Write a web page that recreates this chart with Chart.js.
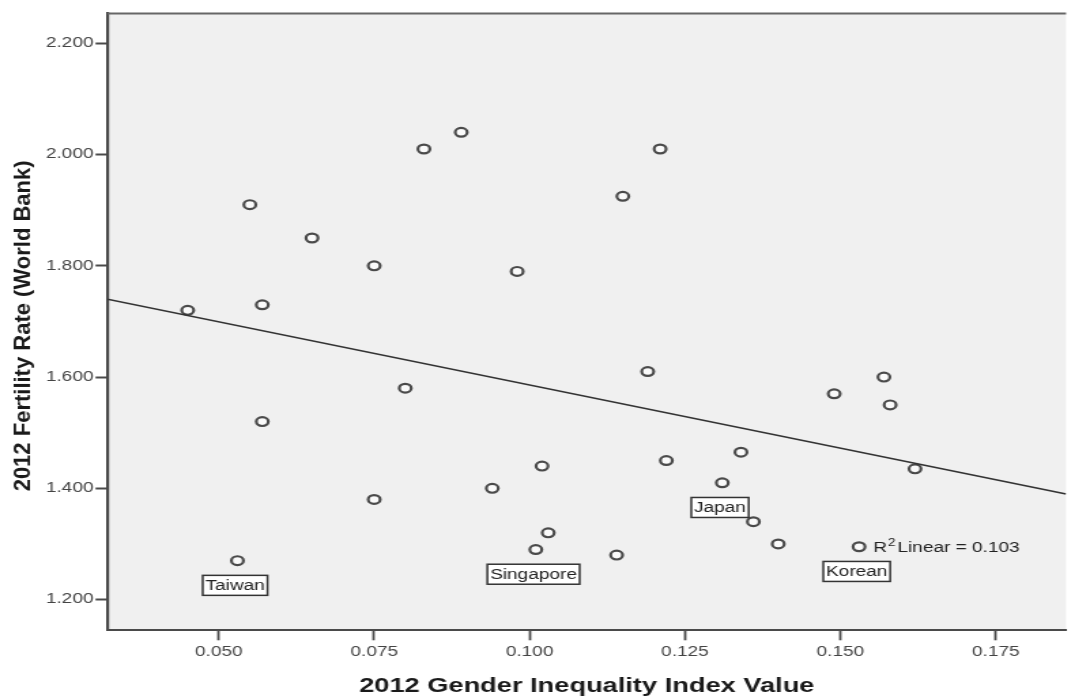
<!DOCTYPE html>
<html lang="en">
<head>
<meta charset="UTF-8">
<title>2012 Fertility Rate vs Gender Inequality Index</title>
<script src="https://cdn.jsdelivr.net/npm/chart.js"></script>
<style>
    html, body { margin: 0; padding: 0; background: #fff; overflow: hidden; }
    /* the source graphic is stretched sideways, so the canvas is too */
    .chart-wrap {
        width: 790px;
        height: 697px;
        transform: scaleX(1.3608);
        transform-origin: 0 0;
    }
</style>
</head>
<body>
<div class="chart-wrap">
    <canvas id="scatterChart"></canvas>
</div>

<script>
// 2012 Gender Inequality Index value per country
const gii = [0.045, 0.053, 0.055, 0.057, 0.057, 0.065, 0.075, 0.075, 0.080, 0.083,
             0.089, 0.094, 0.098, 0.101, 0.102, 0.103, 0.114, 0.115, 0.119, 0.121,
             0.122, 0.131, 0.134, 0.136, 0.140, 0.149, 0.153, 0.157, 0.158, 0.162];
// 2012 fertility rate (World Bank)
const fertility = [1.72, 1.27, 1.91, 1.73, 1.52, 1.85, 1.80, 1.38, 1.58, 2.01,
                   2.04, 1.40, 1.79, 1.29, 1.44, 1.32, 1.28, 1.925, 1.61, 2.01,
                   1.45, 1.41, 1.465, 1.34, 1.30, 1.57, 1.295, 1.60, 1.55, 1.435];

const labelNames = ['Taiwan', 'Singapore', 'Japan', 'Korean'];
const labelIndex = [1, 13, 21, 26];

// fit line end points, read at the plot edges
const fitX = [0.0321, 0.1863];
const fitY = [1.740, 1.390];
const r2Value = '0.103';

const xTicks = [0.050, 0.075, 0.100, 0.125, 0.150, 0.175];
const yTicks = [1.200, 1.400, 1.600, 1.800, 2.000, 2.200];

const yTitle = '2012 Fertility Rate (World Bank)';

const FONT = '"Liberation Sans", Arial, sans-serif';
const STRETCH = 1.3608;

const plotBg = {
    id: 'plotBg',
    beforeDraw(chart) {
        const { ctx, chartArea: a } = chart;
        ctx.save();
        ctx.fillStyle = '#f0f0f0';
        ctx.fillRect(a.left, a.top, a.right - a.left, a.bottom - a.top);
        ctx.restore();
    },
    afterDraw(chart) {
        const { ctx, chartArea: a } = chart;
        ctx.save();
        ctx.strokeStyle = '#666';
        ctx.lineWidth = 2;
        ctx.beginPath();
        ctx.moveTo(a.left, a.top);
        ctx.lineTo(a.right, a.top);
        ctx.stroke();

        // y title is not stretched in the source, undo the sideways scale for it
        ctx.scale(1 / STRETCH, 1);
        ctx.translate(24, (a.top + a.bottom) / 2 + 4);
        ctx.rotate(-Math.PI / 2);
        ctx.font = 'bold 22px ' + FONT;
        ctx.fillStyle = '#1a1a1a';
        ctx.textAlign = 'center';
        ctx.textBaseline = 'middle';
        ctx.fillText(yTitle, 0, 0);
        ctx.restore();
    }
};

// country boxes under their points + the R2 note
const annotations = {
    id: 'annotations',
    afterDatasetsDraw(chart) {
        const ctx = chart.ctx;
        const pts = chart.getDatasetMeta(1).data;
        ctx.save();
        ctx.font = '14px ' + FONT;
        ctx.textBaseline = 'middle';
        labelIndex.forEach((idx, i) => {
            const p = pts[idx];
            const w = ctx.measureText(labelNames[i]).width + 4;
            const h = 20;
            const cx = p.x - 1.7;
            const cy = p.y + 24.7;
            ctx.fillStyle = '#fff';
            ctx.fillRect(cx - w / 2, cy - h / 2, w, h);
            ctx.strokeStyle = '#333';
            ctx.lineWidth = 1.5;
            ctx.strokeRect(cx - w / 2, cy - h / 2, w, h);
            ctx.fillStyle = '#222';
            ctx.textAlign = 'center';
            ctx.fillText(labelNames[i], cx, cy + 0.5);
        });

        const xs = chart.scales.x, ys = chart.scales.y;
        let tx = xs.getPixelForValue(0.1553);
        const ty = ys.getPixelForValue(1.2917);
        ctx.textAlign = 'left';
        ctx.fillStyle = '#222';
        ctx.fillText('R', tx, ty);
        tx += ctx.measureText('R').width + 0.5;
        ctx.font = '10px ' + FONT;
        ctx.fillText('2', tx, ty - 5);
        tx += ctx.measureText('2').width + 1.5;
        ctx.font = '14px ' + FONT;
        ctx.fillText('Linear = ' + r2Value, tx, ty);
        ctx.restore();
    }
};

const points = gii.map((g, i) => ({ x: g, y: fertility[i] }));
const fitLine = fitX.map((x, i) => ({ x: x, y: fitY[i] }));

new Chart(document.getElementById('scatterChart'), {
    type: 'scatter',
    data: {
        datasets: [
            {
                label: 'Linear fit',
                data: fitLine,
                showLine: true,
                borderColor: '#333',
                borderWidth: 1.6,
                pointRadius: 0,
                fill: false
            },
            {
                label: 'Countries',
                data: points,
                pointStyle: 'circle',
                pointRadius: 4.4,
                pointBorderWidth: 2.2,
                pointBorderColor: '#4a4a4a',
                pointBackgroundColor: '#fafafa'
            }
        ]
    },
    options: {
        responsive: true,
        maintainAspectRatio: false,
        animation: false,
        layout: { padding: { top: 13.5, left: 0, right: 0, bottom: 0 } },
        plugins: {
            legend: { display: false },
            tooltip: { enabled: false }
        },
        scales: {
            x: {
                type: 'linear',
                min: 0.0321,
                max: 0.1863,
                afterBuildTicks(scale) { scale.ticks = xTicks.map(v => ({ value: v })); },
                afterFit(scale) { scale.height = 66.7; },
                border: { display: true, color: '#4a4a4a', width: 2 },
                grid: {
                    drawOnChartArea: false,
                    drawTicks: true,
                    tickLength: 10,
                    tickWidth: 1.8,
                    tickColor: '#4a4a4a'
                },
                ticks: {
                    padding: 3,
                    color: '#444',
                    font: { family: FONT, size: 14 },
                    maxRotation: 0,
                    callback: v => v.toFixed(3)
                },
                title: {
                    display: true,
                    text: '2012 Gender Inequality Index Value',
                    color: '#1a1a1a',
                    font: { family: FONT, size: 20, weight: 'bold', lineHeight: 1 },
                    padding: { top: 0, bottom: 1 }
                }
            },
            y: {
                type: 'linear',
                min: 1.1448,
                max: 2.2536,
                afterBuildTicks(scale) { scale.ticks = yTicks.map(v => ({ value: v })); },
                afterFit(scale) { scale.width = 79; },
                border: { display: true, color: '#4a4a4a', width: 2.2 },
                grid: {
                    drawOnChartArea: false,
                    drawTicks: true,
                    tickLength: 8.8,
                    tickWidth: 2,
                    tickColor: '#4a4a4a'
                },
                ticks: {
                    padding: 1.5,
                    color: '#444',
                    font: { family: FONT, size: 14 },
                    callback: v => v.toFixed(3)
                }
            }
        }
    },
    plugins: [plotBg, annotations]
});
</script>
</body>
</html>
